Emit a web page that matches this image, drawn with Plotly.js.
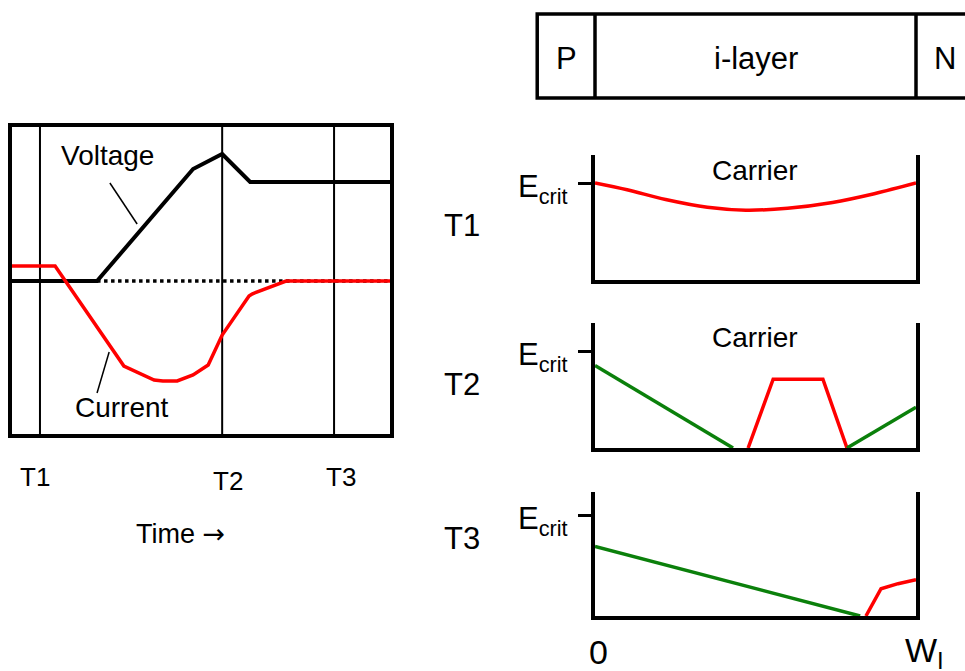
<!DOCTYPE html>
<html>
<head>
<meta charset="utf-8">
<script src="https://cdn.plot.ly/plotly-3.0.1.min.js"></script>
<style>
  html, body { margin: 0; padding: 0; background: #ffffff; }
  #chart { width: 965px; height: 671px; }
</style>
</head>
<body>
<div id="chart"></div>
<script>
// ---- Switching waveforms (left panel) ----
const timeMarkLabels = ['T1', 'T2', 'T3'];
const timeMarks = [7.4, 55.6, 85.2];

const tVoltage = [0, 22.5, 47.9, 55.6, 63.0, 100];
const voltage  = [0, 0, 11.2, 12.7, 9.9, 9.9];

const tBaseline = [22.5, 100];
const baseline  = [0, 0];

const tCurrent = [0, 11.4, 29.6, 36.0, 37.6, 39.9, 43.7, 47.9, 51.9, 55.6, 60.3, 62.7, 63.5, 72.5, 100];
const current  = [1.5, 1.5, -8.5, -9.6, -9.9, -10.0, -10.0, -9.4, -8.4, -5.4, -2.9, -1.5, -1.3, 0, 0];

// ---- Field profiles across the i-layer (right panels), E / Ecrit ----
const layerNames = ['P', 'i-layer', 'N'];
const layerEdges = [-0.18, 0, 1, 1.2];
const layerCenters = [-0.09, 0.5, 1.09];

const xT1Carrier = [0, 0.1, 0.22, 0.35, 0.47, 0.6, 0.74, 0.87, 1.0];
const eT1Carrier = [1.0, 0.93, 0.83, 0.75, 0.72, 0.74, 0.80, 0.89, 1.0];

const xT2FieldLeft  = [0, 0.43];
const eT2FieldLeft  = [0.85, 0];
const xT2Carrier    = [0.477, 0.555, 0.71, 0.785];
const eT2Carrier    = [0, 0.71, 0.71, 0];
const xT2FieldRight = [0.785, 1];
const eT2FieldRight = [0, 0.42];

const xT3Field   = [0, 0.826];
const eT3Field   = [0.69, 0];
const xT3Carrier = [0.844, 0.891, 0.944, 1];
const eT3Carrier = [0, 0.27, 0.32, 0.36];

const W = 965, H = 671;
const px = x => x / W;
const py = y => 1 - y / H;

// i-layer position (0..1) mapped onto the page width of the field panels
const FIELD_L = 595, FIELD_R = 916;
const layerX = u => px(FIELD_L + u * (FIELD_R - FIELD_L));

const FONT = 'Liberation Sans, Arial, sans-serif';
const RED = '#ff0000';
const GREEN = '#0b800b';
const BLACK = '#000000';

const traces = [
  { x: tBaseline, y: baseline, xaxis: 'x', yaxis: 'y', mode: 'lines',
    line: { color: BLACK, width: 3.5, dash: '3.5px,3.5px' } },
  { x: tVoltage, y: voltage, xaxis: 'x', yaxis: 'y', mode: 'lines',
    line: { color: BLACK, width: 4 } },
  { x: tCurrent, y: current, xaxis: 'x', yaxis: 'y', mode: 'lines',
    line: { color: RED, width: 3.5 } },

  { x: xT1Carrier, y: eT1Carrier, xaxis: 'x2', yaxis: 'y2', mode: 'lines',
    line: { color: RED, width: 3.5, shape: 'spline' } },

  { x: xT2FieldLeft, y: eT2FieldLeft, xaxis: 'x3', yaxis: 'y3', mode: 'lines',
    line: { color: GREEN, width: 3.5 } },
  { x: xT2Carrier, y: eT2Carrier, xaxis: 'x3', yaxis: 'y3', mode: 'lines',
    line: { color: RED, width: 3.5 } },
  { x: xT2FieldRight, y: eT2FieldRight, xaxis: 'x3', yaxis: 'y3', mode: 'lines',
    line: { color: GREEN, width: 3.5 } },

  { x: xT3Field, y: eT3Field, xaxis: 'x4', yaxis: 'y4', mode: 'lines',
    line: { color: GREEN, width: 3.5 } },
  { x: xT3Carrier, y: eT3Carrier, xaxis: 'x4', yaxis: 'y4', mode: 'lines',
    line: { color: RED, width: 3.5 } }
];

const hidden = { showgrid: false, zeroline: false, showticklabels: false, fixedrange: true };

function fieldX(anchor) {
  return Object.assign({}, hidden, {
    domain: [px(FIELD_L), px(FIELD_R)], range: [0, 1], anchor: anchor,
    showline: true, linecolor: BLACK, linewidth: 4, ticks: ''
  });
}
function fieldY(anchor, bottom, top, range) {
  return Object.assign({}, hidden, {
    domain: [py(bottom), py(top)], range: range, anchor: anchor,
    showline: true, mirror: true, linecolor: BLACK, linewidth: 4,
    ticks: 'outside', tickvals: [1], ticklen: 13, tickwidth: 3, tickcolor: BLACK
  });
}

const shapes = [];
// time markers in the waveform panel
timeMarks.forEach(t => shapes.push({
  type: 'line', xref: 'x', yref: 'y domain', x0: t, x1: t, y0: 0, y1: 1,
  line: { color: BLACK, width: 2 }, layer: 'below'
}));
// leader lines for the waveform labels
shapes.push({ type: 'line', xref: 'x', yref: 'y', x0: 25.9, y0: 9.8, x1: 33.1, y1: 5.7,
  line: { color: BLACK, width: 1.5 } });
shapes.push({ type: 'line', xref: 'x', yref: 'y', x0: 25.7, y0: -7.1, x1: 22.5, y1: -11.2,
  line: { color: BLACK, width: 1.5 } });
// P / i-layer / N structure bar
shapes.push({ type: 'rect', xref: 'paper', yref: 'paper',
  x0: layerX(layerEdges[0]), x1: layerX(layerEdges[3]), y0: py(98), y1: py(14),
  line: { color: BLACK, width: 3.5 } });
[layerEdges[1], layerEdges[2]].forEach(e => shapes.push({
  type: 'line', xref: 'paper', yref: 'paper', x0: layerX(e), x1: layerX(e), y0: py(98), y1: py(14),
  line: { color: BLACK, width: 3.5 }
}));

const annotations = [];
const txt = (text, x, y, size, extra) => annotations.push(Object.assign({
  text: text, x: x, y: y, xref: 'paper', yref: 'paper', showarrow: false,
  xanchor: 'center', yanchor: 'middle',
  font: { family: FONT, size: size, color: BLACK }
}, extra || {}));

txt('Voltage', px(107), py(155), 28);
txt('Current', px(122), py(407), 28);
const timeLabelPos = [[35, 477], [228, 481], [341, 477]];
timeMarkLabels.forEach((l, i) => txt(l, px(timeLabelPos[i][0]), py(timeLabelPos[i][1]), 26));
txt('Time <span style="font-family:DejaVu Sans">→</span>', px(180), py(533), 27);

// structure bar labels
layerNames.forEach((n, i) => txt(n, layerX(layerCenters[i]), py(58), 31));

// field panel labels
const rowLabelY = [226, 384, 538];
timeMarkLabels.forEach((l, i) => txt(l, px(462), py(rowLabelY[i]), 31));
txt('Carrier', px(755), py(170), 28);
txt('Carrier', px(755), py(337), 28);
['y2', 'y3', 'y4'].forEach(ya => annotations.push({
  text: 'E<sub>crit</sub>', x: px(570), y: 1, xref: 'paper', yref: ya,
  yshift: -6, showarrow: false, xanchor: 'right', yanchor: 'middle',
  font: { family: FONT, size: 31, color: BLACK }
}));
txt('0', px(598), py(652), 34);
txt('W<sub>I</sub>', px(903), py(652), 34, { xanchor: 'left' });

const layout = {
  width: W, height: H,
  margin: { l: 0, r: 0, t: 0, b: 0 },
  paper_bgcolor: '#ffffff', plot_bgcolor: 'rgba(0,0,0,0)',
  showlegend: false,
  font: { family: FONT, color: BLACK },
  xaxis: Object.assign({}, hidden, {
    domain: [px(12), px(390)], range: [0, 100], anchor: 'y',
    showline: true, mirror: true, linecolor: BLACK, linewidth: 4, ticks: ''
  }),
  yaxis: Object.assign({}, hidden, {
    domain: [py(434), py(127)], range: [-15.3, 15.4], anchor: 'x',
    showline: true, mirror: true, linecolor: BLACK, linewidth: 4, ticks: ''
  }),
  xaxis2: fieldX('y2'),
  yaxis2: fieldY('x2', 280, 155, [0, 1.289]),
  xaxis3: fieldX('y3'),
  yaxis3: fieldY('x3', 448, 323, [0, 1.289]),
  xaxis4: fieldX('y4'),
  yaxis4: fieldY('x4', 616, 492, [0, 1.228]),
  shapes: shapes,
  annotations: annotations
};

Plotly.newPlot('chart', traces, layout, { staticPlot: true, displayModeBar: false });
</script>
</body>
</html>
